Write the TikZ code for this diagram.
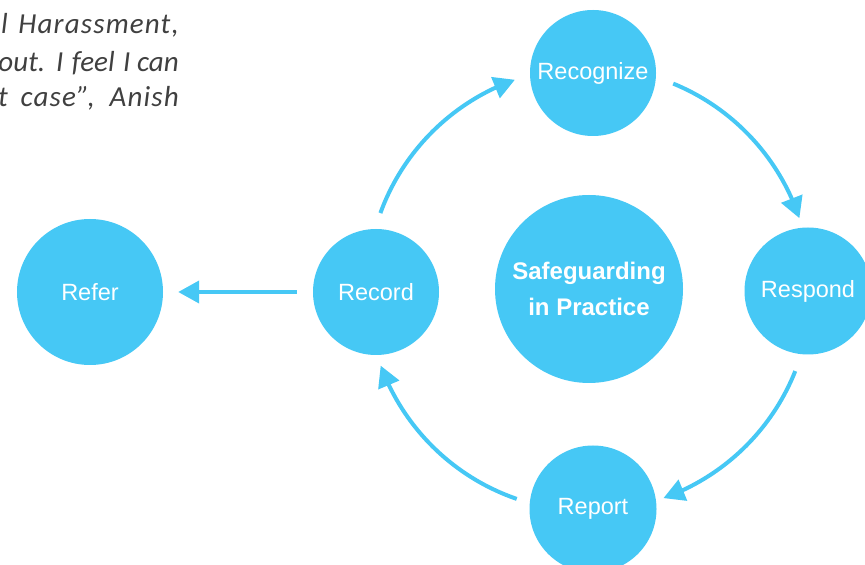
\documentclass[tikz,border=0pt]{standalone}
\usepackage{fontspec}
\newfontfamily\arialfont{Liberation Sans}
\newfontfamily\quotefont{Carlito}
\usetikzlibrary{arrows.meta,bending,calc}
\definecolor{skyblue}{RGB}{70,200,245}
\definecolor{quotegray}{RGB}{64,64,64}
\tikzset{
  bubble/.style={circle,fill=skyblue,inner sep=0pt,text=white,
    font=\arialfont\fontsize{23.5}{28}\selectfont},
  hub/.style={circle,fill=skyblue,inner sep=0pt,text=white,align=center,
    font=\arialfont\bfseries\fontsize{24}{36}\selectfont},
  arr/.style={draw=skyblue,line width=4pt,
    -{Triangle[length=21pt,width=22pt,flex]}},
  quote/.style={anchor=base east,inner sep=0pt,text=quotegray,
    font=\quotefont\itshape\fontsize{29}{36}\selectfont},
  widequote/.style={quote,
    font=\quotefont\itshape\fontsize{29}{36}\selectfont\addfontfeature{LetterSpace=4}}
}
\begin{document}
\begin{tikzpicture}[x=1pt,y=1pt]
\clip (0,0) rectangle (865,565);
\fill[white] (0,0) rectangle (865,565);
% quote fragment
\node[widequote] (q1) at (179,531) {Sexual\hspace{3pt} Harassment,};
\node[quote] (q2) at (179,493) {about.\hspace{2pt} I\hspace{2pt} feel\hspace{2pt} I can};
\node[widequote] (q3) at (179,458) {that\hspace{5pt} case”,\hspace{7pt} Anish};
% nodes
\node[hub,minimum size=188pt] (C) at (589,276) {Safeguarding\\in Practice};
\node[bubble,minimum size=126pt] (Recognize) at (593,492) {Recognize};
\node[bubble,minimum size=127pt] (Respond) at (808,274) {Respond};
\node[bubble,minimum size=126pt] (Record) at (376,273) {Record};
\node[bubble,minimum size=127pt] (Report) at (593,56) {Report};
\node[bubble,minimum size=146pt] (Refer) at (90,273) {Refer};
% cycle arrows
\draw[arr] ($(C)+(160:222pt)$) arc[start angle=160,end angle=109.5,radius=222pt];
\draw[arr] ($(C)+(67.7:222pt)$) arc[start angle=67.7,end angle=18.6,radius=222pt];
\draw[arr] ($(C)+(-21.7:222pt)$) arc[start angle=-21.7,end angle=-70.4,radius=222pt];
\draw[arr] ($(C)+(-109:222pt)$) arc[start angle=-109,end angle=-159.8,radius=222pt];
% refer arrow
\draw[arr] ([xshift=-16pt]Record.west) -- ([xshift=15pt]Refer.east);
\end{tikzpicture}
\end{document}
